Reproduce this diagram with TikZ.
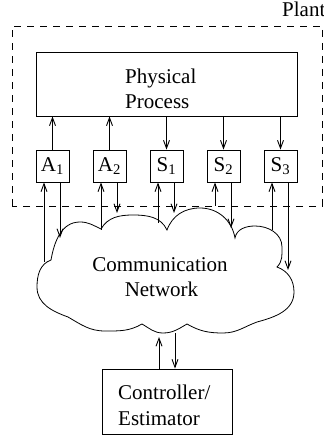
\documentclass[tikz,border=0pt]{standalone}
\usepackage{fontspec}
\setmainfont{Liberation Serif}
\usetikzlibrary{arrows.meta}
\begin{document}
\begin{tikzpicture}[x=1pt,y=1pt,
  box/.style={draw, line width=0.9pt, inner sep=0pt},
  arr/.style={line width=0.9pt, -{Straight Barb[length=8pt,width=6pt]}},
  lbl/.style={font=\fontsize{21}{25}\selectfont, inner sep=0pt},
  smallbox/.style={box, lbl, minimum width=33pt, minimum height=32pt}]
\useasboundingbox (0,0) rectangle (324,437);
% plant
\draw[line width=0.9pt, dash pattern=on 7pt off 6pt] (12,231) rectangle (322,411);
\node[lbl, anchor=base west] (plant) at (282,420) {Plant};
% physical process
\node[box, minimum width=261pt, minimum height=64pt] (pp) at (166.5,353) {};
\node[lbl, anchor=base west] (pp1) at (125,353) {Physical};
\node[lbl, anchor=base west] (pp2) at (125,328) {Process};
% actuators and sensors
\node[smallbox] (a1) at (52.5,271) {A\textsubscript{1}};
\node[smallbox] (a2) at (109.5,271) {A\textsubscript{2}};
\node[smallbox] (s1) at (166.5,271) {S\textsubscript{1}};
\node[smallbox] (s2) at (223.5,271) {S\textsubscript{2}};
\node[smallbox] (s3) at (280.5,271) {S\textsubscript{3}};
\draw[arr] (a1.north) -- (a1.north |- pp.south);
\draw[arr] (a2.north) -- (a2.north |- pp.south);
\draw[arr] (s1.north |- pp.south) -- (s1.north);
\draw[arr] (s2.north |- pp.south) -- (s2.north);
\draw[arr] (s3.north |- pp.south) -- (s3.north);
% cloud
\draw[line width=0.8pt] (68,120) to[out=160,in=270] (37,150) to[out=90,in=200] (51,177)
  to[out=80,in=180] (80,215) to[out=0,in=155] (101,208)
  to[out=60,in=180] (133,222) to[out=0,in=115] (167,207)
  to[out=70,in=180] (200,229) to[out=0,in=100] (235,199)
  to[out=80,in=180] (255,211) to[out=0,in=90] (282,190) to[out=270,in=45] (277,170)
  to[out=-20,in=90] (294,145) to[out=270,in=15] (257,115)
  to[out=200,in=0] (223,104) to[out=180,in=-30] (187,113)
  to[out=210,in=0] (163,104) to[out=180,in=-30] (142,113)
  to[out=210,in=0] (105,106) to[out=180,in=-30] cycle;
\node[lbl, anchor=base] (net1) at (160,165) {Communication};
\node[lbl, anchor=base] (net2) at (161.5,140) {Network};
% arrows between boxes and cloud
\coordinate (a1u) at (44,175);  \coordinate (a1d) at (60,199);
\coordinate (a2u) at (101,207); \coordinate (a2d) at (117,224);
\coordinate (s1u) at (158,214); \coordinate (s1d) at (174,224);
\coordinate (s2u) at (215,231); \coordinate (s2d) at (231,209);
\coordinate (s3u) at (272,207); \coordinate (s3d) at (288,167);
\draw[arr] (a1u) -- (a1u |- a1.south);
\draw[arr] (a1d |- a1.south) -- (a1d);
\draw[arr] (a2u) -- (a2u |- a2.south);
\draw[arr] (a2d |- a2.south) -- (a2d);
\draw[arr] (s1u) -- (s1u |- s1.south);
\draw[arr] (s1d |- s1.south) -- (s1d);
\draw[arr] (s2u) -- (s2u |- s2.south);
\draw[arr] (s2d |- s2.south) -- (s2d);
\draw[arr] (s3u) -- (s3u |- s3.south);
\draw[arr] (s3d |- s3.south) -- (s3d);
% controller
\node[box, minimum width=130pt, minimum height=65pt] (ce) at (167,35.5) {};
\node[lbl, anchor=base west] (ce1) at (118,37) {Controller/};
\node[lbl, anchor=base west] (ce2) at (118,12) {Estimator};
\coordinate (cu) at (159,100);
\coordinate (cd) at (175,104);
\draw[arr] (cu |- ce.north) -- (cu);
\draw[arr] (cd) -- (cd |- ce.north);
\end{tikzpicture}
\end{document}
